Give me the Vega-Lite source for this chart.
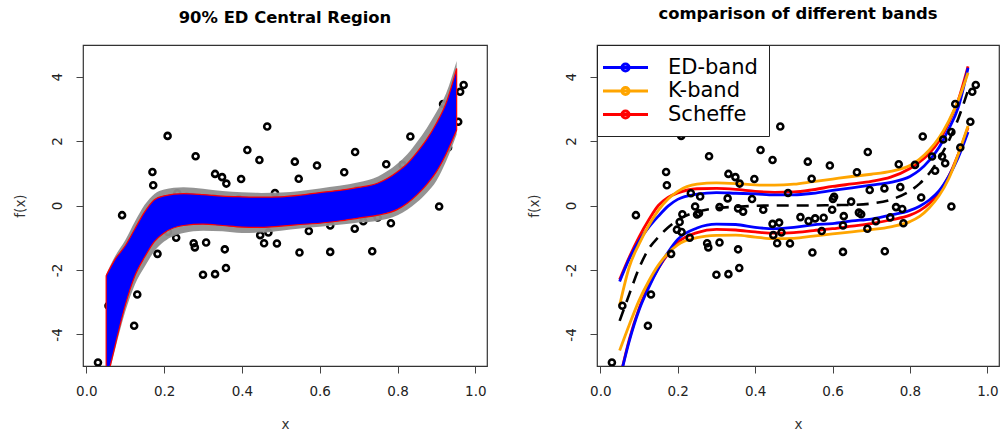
{
"$schema": "https://vega.github.io/schema/vega-lite/v6.json",
"background": "white",
"padding": {"left": 12, "top": 5, "right": 0, "bottom": 0},
"spacing": 110,
"bounds": "flush",
"config": {
  "font": "DejaVu Sans",
  "view": {"stroke": "#333", "strokeWidth": 1.2},
  "axis": {"grid": false, "domain": false, "tickColor": "#444", "tickSize": 7, "tickWidth": 1, "labelFont": "DejaVu Sans", "labelFontSize": 13.5, "labelColor": "#222", "titleFont": "DejaVu Sans", "titleFontSize": 13.5, "titleFontWeight": "normal", "titleColor": "#333"},
  "axisX": {"labelPadding": 11.5, "titlePadding": 19},
  "axisY": {"labelAngle": 270, "labelAlign": "center", "labelBaseline": "bottom", "labelPadding": 12, "titlePadding": 23},
  "title": {"font": "DejaVu Sans", "fontSize": 16.4, "fontWeight": "bold", "color": "black", "offset": 19, "anchor": "middle"}
},
"datasets": {
  "pts": [
    {"x":0.030,"y":-4.87},{"x":0.057,"y":-3.11},{"x":0.092,"y":-0.30},{"x":0.123,"y":-3.73},{"x":0.131,"y":-2.76},
    {"x":0.170,"y":1.04},{"x":0.172,"y":0.63},{"x":0.183,"y":-1.50},{"x":0.209,"y":2.16},{"x":0.198,"y":-0.75},
    {"x":0.205,"y":-0.51},{"x":0.212,"y":-0.27},{"x":0.210,"y":-0.82},{"x":0.231,"y":-1.00},{"x":0.234,"y":0.38},
    {"x":0.245,"y":-0.03},{"x":0.250,"y":-0.28},{"x":0.255,"y":-0.24},{"x":0.258,"y":0.28},{"x":0.276,"y":-1.17},
    {"x":0.279,"y":-1.30},{"x":0.281,"y":1.53},{"x":0.300,"y":-2.15},{"x":0.308,"y":-1.15},{"x":0.308,"y":-0.05},
    {"x":0.329,"y":0.22},{"x":0.331,"y":-2.13},{"x":0.331,"y":0.98},{"x":0.349,"y":0.88},{"x":0.356,"y":-1.36},
    {"x":0.359,"y":-1.94},{"x":0.360,"y":0.68},{"x":0.356,"y":-0.09},{"x":0.369,"y":-0.19},{"x":0.392,"y":0.20},
    {"x":0.398,"y":0.82},{"x":0.414,"y":1.72},{"x":0.421,"y":-0.13},{"x":0.445,"y":-0.57},{"x":0.445,"y":1.41},
    {"x":0.447,"y":-0.92},{"x":0.457,"y":-1.17},{"x":0.462,"y":-0.53},{"x":0.465,"y":2.45},{"x":0.468,"y":-0.84},
    {"x":0.485,"y":0.39},{"x":0.490,"y":-1.18},{"x":0.517,"y":-0.36},{"x":0.536,"y":1.36},{"x":0.538,"y":-0.48},
    {"x":0.546,"y":0.83},{"x":0.548,"y":-1.46},{"x":0.555,"y":-0.40},{"x":0.577,"y":-0.38},{"x":0.572,"y":-0.79},
    {"x":0.593,"y":1.24},{"x":0.599,"y":-0.13},{"x":0.601,"y":0.20},{"x":0.604,"y":0.27},{"x":0.627,"y":-1.44},
    {"x":0.629,"y":-0.33},{"x":0.627,"y":-0.62},{"x":0.648,"y":0.12},{"x":0.663,"y":1.03},{"x":0.668,"y":-0.22},
    {"x":0.674,"y":-0.27},{"x":0.691,"y":1.66},{"x":0.696,"y":0.48},{"x":0.690,"y":-0.72},{"x":0.712,"y":-0.49},
    {"x":0.734,"y":0.53},{"x":0.735,"y":-1.42},{"x":0.749,"y":-0.37},{"x":0.764,"y":-0.05},{"x":0.771,"y":1.28},
    {"x":0.775,"y":0.57},{"x":0.780,"y":-0.11},{"x":0.783,"y":-0.55},{"x":0.813,"y":1.26},{"x":0.829,"y":0.25},
    {"x":0.833,"y":2.14},{"x":0.857,"y":1.52},{"x":0.865,"y":1.08},{"x":0.883,"y":1.52},{"x":0.886,"y":2.05},
    {"x":0.891,"y":1.31},{"x":0.907,"y":-0.03},{"x":0.907,"y":2.28},{"x":0.917,"y":3.15},{"x":0.930,"y":1.80},
    {"x":0.956,"y":2.60},{"x":0.961,"y":3.53},{"x":0.970,"y":3.74}
  ],
  "ed": [
    {"x":0.051,"lo":-5.5,"hi":-2.18,"glo":-5.6,"ghi":-2.13},
    {"x":0.075,"lo":-4.3,"hi":-1.65,"glo":-4.42,"ghi":-1.55},
    {"x":0.1,"lo":-3.1,"hi":-1.25,"glo":-3.3,"ghi":-1.08},
    {"x":0.125,"lo":-2.18,"hi":-0.72,"glo":-2.45,"ghi":-0.5},
    {"x":0.15,"lo":-1.6,"hi":-0.2,"glo":-1.9,"ghi":0.02},
    {"x":0.175,"lo":-1.12,"hi":0.18,"glo":-1.42,"ghi":0.36},
    {"x":0.2,"lo":-0.85,"hi":0.30,"glo":-1.12,"ghi":0.5},
    {"x":0.25,"lo":-0.62,"hi":0.37,"glo":-0.85,"ghi":0.57},
    {"x":0.3,"lo":-0.58,"hi":0.34,"glo":-0.78,"ghi":0.52},
    {"x":0.35,"lo":-0.62,"hi":0.29,"glo":-0.8,"ghi":0.45},
    {"x":0.4,"lo":-0.67,"hi":0.27,"glo":-0.85,"ghi":0.41},
    {"x":0.45,"lo":-0.68,"hi":0.26,"glo":-0.84,"ghi":0.39},
    {"x":0.5,"lo":-0.64,"hi":0.27,"glo":-0.78,"ghi":0.4},
    {"x":0.55,"lo":-0.59,"hi":0.32,"glo":-0.71,"ghi":0.45},
    {"x":0.6,"lo":-0.55,"hi":0.40,"glo":-0.66,"ghi":0.53},
    {"x":0.65,"lo":-0.48,"hi":0.47,"glo":-0.6,"ghi":0.61},
    {"x":0.7,"lo":-0.39,"hi":0.56,"glo":-0.53,"ghi":0.72},
    {"x":0.75,"lo":-0.30,"hi":0.70,"glo":-0.47,"ghi":0.9},
    {"x":0.8,"lo":-0.12,"hi":1.05,"glo":-0.3,"ghi":1.3},
    {"x":0.825,"lo":0.07,"hi":1.30,"glo":-0.13,"ghi":1.59},
    {"x":0.85,"lo":0.33,"hi":1.65,"glo":0.1,"ghi":1.97},
    {"x":0.875,"lo":0.65,"hi":2.05,"glo":0.39,"ghi":2.4},
    {"x":0.9,"lo":1.05,"hi":2.55,"glo":0.77,"ghi":2.9},
    {"x":0.925,"lo":1.6,"hi":3.18,"glo":1.37,"ghi":3.48},
    {"x":0.952,"lo":2.34,"hi":4.25,"glo":2.2,"ghi":4.48}
  ],
  "fit": [
    {"x":0.05,"y":-3.58},{"x":0.075,"y":-2.75},{"x":0.1,"y":-1.95},{"x":0.125,"y":-1.35},{"x":0.15,"y":-0.98},
    {"x":0.175,"y":-0.68},{"x":0.2,"y":-0.45},{"x":0.25,"y":-0.2},{"x":0.3,"y":-0.08},{"x":0.35,"y":-0.04},
    {"x":0.4,"y":-0.01},{"x":0.45,"y":0.0},{"x":0.5,"y":0.0},{"x":0.55,"y":0.0},{"x":0.6,"y":0.01},
    {"x":0.65,"y":0.02},{"x":0.7,"y":0.06},{"x":0.75,"y":0.18},{"x":0.8,"y":0.45},{"x":0.825,"y":0.68},
    {"x":0.85,"y":1.0},{"x":0.875,"y":1.45},{"x":0.9,"y":2.0},{"x":0.925,"y":2.7},{"x":0.95,"y":3.57}
  ],
  "bands": [
    {"band":"Scheffe","side":"up","x":0.05,"y":-2.3},{"band":"Scheffe","side":"up","x":0.075,"y":-1.6},{"band":"Scheffe","side":"up","x":0.1,"y":-0.98},{"band":"Scheffe","side":"up","x":0.125,"y":-0.45},{"band":"Scheffe","side":"up","x":0.15,"y":0.0},{"band":"Scheffe","side":"up","x":0.175,"y":0.25},{"band":"Scheffe","side":"up","x":0.2,"y":0.39},{"band":"Scheffe","side":"up","x":0.25,"y":0.52},{"band":"Scheffe","side":"up","x":0.3,"y":0.53},{"band":"Scheffe","side":"up","x":0.35,"y":0.50},{"band":"Scheffe","side":"up","x":0.4,"y":0.44},{"band":"Scheffe","side":"up","x":0.45,"y":0.41},{"band":"Scheffe","side":"up","x":0.5,"y":0.42},{"band":"Scheffe","side":"up","x":0.55,"y":0.49},{"band":"Scheffe","side":"up","x":0.6,"y":0.59},{"band":"Scheffe","side":"up","x":0.65,"y":0.67},{"band":"Scheffe","side":"up","x":0.7,"y":0.75},{"band":"Scheffe","side":"up","x":0.75,"y":0.88},{"band":"Scheffe","side":"up","x":0.8,"y":1.15},{"band":"Scheffe","side":"up","x":0.825,"y":1.35},{"band":"Scheffe","side":"up","x":0.85,"y":1.62},{"band":"Scheffe","side":"up","x":0.875,"y":2.0},{"band":"Scheffe","side":"up","x":0.9,"y":2.57},{"band":"Scheffe","side":"up","x":0.925,"y":3.28},{"band":"Scheffe","side":"up","x":0.95,"y":4.32},
    {"band":"Scheffe","side":"lo","x":0.05,"y":-5.4},{"band":"Scheffe","side":"lo","x":0.075,"y":-4.15},{"band":"Scheffe","side":"lo","x":0.1,"y":-3.2},{"band":"Scheffe","side":"lo","x":0.125,"y":-2.5},{"band":"Scheffe","side":"lo","x":0.15,"y":-1.95},{"band":"Scheffe","side":"lo","x":0.175,"y":-1.5},{"band":"Scheffe","side":"lo","x":0.2,"y":-1.15},{"band":"Scheffe","side":"lo","x":0.25,"y":-0.84},{"band":"Scheffe","side":"lo","x":0.3,"y":-0.74},{"band":"Scheffe","side":"lo","x":0.35,"y":-0.76},{"band":"Scheffe","side":"lo","x":0.4,"y":-0.82},{"band":"Scheffe","side":"lo","x":0.45,"y":-0.86},{"band":"Scheffe","side":"lo","x":0.5,"y":-0.84},{"band":"Scheffe","side":"lo","x":0.55,"y":-0.78},{"band":"Scheffe","side":"lo","x":0.6,"y":-0.72},{"band":"Scheffe","side":"lo","x":0.65,"y":-0.64},{"band":"Scheffe","side":"lo","x":0.7,"y":-0.56},{"band":"Scheffe","side":"lo","x":0.75,"y":-0.45},{"band":"Scheffe","side":"lo","x":0.8,"y":-0.30},{"band":"Scheffe","side":"lo","x":0.825,"y":-0.16},{"band":"Scheffe","side":"lo","x":0.85,"y":0.06},{"band":"Scheffe","side":"lo","x":0.875,"y":0.40},{"band":"Scheffe","side":"lo","x":0.9,"y":0.9},{"band":"Scheffe","side":"lo","x":0.925,"y":1.6},{"band":"Scheffe","side":"lo","x":0.95,"y":2.42},
    {"band":"ED-band","side":"up","x":0.05,"y":-2.36},{"band":"ED-band","side":"up","x":0.075,"y":-1.65},{"band":"ED-band","side":"up","x":0.1,"y":-1.1},{"band":"ED-band","side":"up","x":0.125,"y":-0.68},{"band":"ED-band","side":"up","x":0.15,"y":-0.33},{"band":"ED-band","side":"up","x":0.175,"y":-0.02},{"band":"ED-band","side":"up","x":0.2,"y":0.19},{"band":"ED-band","side":"up","x":0.25,"y":0.35},{"band":"ED-band","side":"up","x":0.3,"y":0.40},{"band":"ED-band","side":"up","x":0.35,"y":0.38},{"band":"ED-band","side":"up","x":0.4,"y":0.36},{"band":"ED-band","side":"up","x":0.45,"y":0.33},{"band":"ED-band","side":"up","x":0.5,"y":0.33},{"band":"ED-band","side":"up","x":0.55,"y":0.38},{"band":"ED-band","side":"up","x":0.6,"y":0.47},{"band":"ED-band","side":"up","x":0.65,"y":0.55},{"band":"ED-band","side":"up","x":0.7,"y":0.63},{"band":"ED-band","side":"up","x":0.75,"y":0.72},{"band":"ED-band","side":"up","x":0.8,"y":0.90},{"band":"ED-band","side":"up","x":0.825,"y":1.1},{"band":"ED-band","side":"up","x":0.85,"y":1.40},{"band":"ED-band","side":"up","x":0.875,"y":1.8},{"band":"ED-band","side":"up","x":0.9,"y":2.37},{"band":"ED-band","side":"up","x":0.925,"y":3.05},{"band":"ED-band","side":"up","x":0.95,"y":4.27},
    {"band":"ED-band","side":"lo","x":0.05,"y":-5.4},{"band":"ED-band","side":"lo","x":0.075,"y":-4.2},{"band":"ED-band","side":"lo","x":0.1,"y":-3.25},{"band":"ED-band","side":"lo","x":0.125,"y":-2.55},{"band":"ED-band","side":"lo","x":0.15,"y":-1.95},{"band":"ED-band","side":"lo","x":0.175,"y":-1.45},{"band":"ED-band","side":"lo","x":0.2,"y":-1.05},{"band":"ED-band","side":"lo","x":0.25,"y":-0.70},{"band":"ED-band","side":"lo","x":0.3,"y":-0.58},{"band":"ED-band","side":"lo","x":0.35,"y":-0.59},{"band":"ED-band","side":"lo","x":0.4,"y":-0.68},{"band":"ED-band","side":"lo","x":0.45,"y":-0.72},{"band":"ED-band","side":"lo","x":0.5,"y":-0.68},{"band":"ED-band","side":"lo","x":0.55,"y":-0.60},{"band":"ED-band","side":"lo","x":0.6,"y":-0.56},{"band":"ED-band","side":"lo","x":0.65,"y":-0.48},{"band":"ED-band","side":"lo","x":0.7,"y":-0.42},{"band":"ED-band","side":"lo","x":0.75,"y":-0.30},{"band":"ED-band","side":"lo","x":0.8,"y":-0.15},{"band":"ED-band","side":"lo","x":0.825,"y":-0.02},{"band":"ED-band","side":"lo","x":0.85,"y":0.17},{"band":"ED-band","side":"lo","x":0.875,"y":0.45},{"band":"ED-band","side":"lo","x":0.9,"y":0.9},{"band":"ED-band","side":"lo","x":0.925,"y":1.5},{"band":"ED-band","side":"lo","x":0.95,"y":2.28},
    {"band":"K-band","side":"up","x":0.05,"y":-3.1},{"band":"K-band","side":"up","x":0.075,"y":-1.9},{"band":"K-band","side":"up","x":0.1,"y":-1.2},{"band":"K-band","side":"up","x":0.125,"y":-0.62},{"band":"K-band","side":"up","x":0.15,"y":-0.15},{"band":"K-band","side":"up","x":0.175,"y":0.2},{"band":"K-band","side":"up","x":0.2,"y":0.44},{"band":"K-band","side":"up","x":0.25,"y":0.66},{"band":"K-band","side":"up","x":0.3,"y":0.70},{"band":"K-band","side":"up","x":0.35,"y":0.68},{"band":"K-band","side":"up","x":0.4,"y":0.64},{"band":"K-band","side":"up","x":0.45,"y":0.63},{"band":"K-band","side":"up","x":0.5,"y":0.66},{"band":"K-band","side":"up","x":0.55,"y":0.74},{"band":"K-band","side":"up","x":0.6,"y":0.82},{"band":"K-band","side":"up","x":0.65,"y":0.9},{"band":"K-band","side":"up","x":0.7,"y":0.97},{"band":"K-band","side":"up","x":0.75,"y":1.06},{"band":"K-band","side":"up","x":0.8,"y":1.24},{"band":"K-band","side":"up","x":0.825,"y":1.44},{"band":"K-band","side":"up","x":0.85,"y":1.72},{"band":"K-band","side":"up","x":0.875,"y":2.1},{"band":"K-band","side":"up","x":0.9,"y":2.62},{"band":"K-band","side":"up","x":0.925,"y":3.27},{"band":"K-band","side":"up","x":0.95,"y":4.12},
    {"band":"K-band","side":"lo","x":0.05,"y":-4.5},{"band":"K-band","side":"lo","x":0.075,"y":-3.7},{"band":"K-band","side":"lo","x":0.1,"y":-2.95},{"band":"K-band","side":"lo","x":0.125,"y":-2.35},{"band":"K-band","side":"lo","x":0.15,"y":-1.85},{"band":"K-band","side":"lo","x":0.175,"y":-1.48},{"band":"K-band","side":"lo","x":0.2,"y":-1.22},{"band":"K-band","side":"lo","x":0.25,"y":-1.0},{"band":"K-band","side":"lo","x":0.3,"y":-0.93},{"band":"K-band","side":"lo","x":0.35,"y":-0.92},{"band":"K-band","side":"lo","x":0.4,"y":-0.98},{"band":"K-band","side":"lo","x":0.45,"y":-1.03},{"band":"K-band","side":"lo","x":0.5,"y":-1.02},{"band":"K-band","side":"lo","x":0.55,"y":-0.95},{"band":"K-band","side":"lo","x":0.6,"y":-0.88},{"band":"K-band","side":"lo","x":0.65,"y":-0.82},{"band":"K-band","side":"lo","x":0.7,"y":-0.75},{"band":"K-band","side":"lo","x":0.75,"y":-0.66},{"band":"K-band","side":"lo","x":0.8,"y":-0.5},{"band":"K-band","side":"lo","x":0.825,"y":-0.34},{"band":"K-band","side":"lo","x":0.85,"y":-0.07},{"band":"K-band","side":"lo","x":0.875,"y":0.30},{"band":"K-band","side":"lo","x":0.9,"y":0.83},{"band":"K-band","side":"lo","x":0.925,"y":1.6},{"band":"K-band","side":"lo","x":0.95,"y":2.47}
  ]
},
"hconcat": [
  {
    "width": 404, "height": 321,
    "title": {"text": "90% ED Central Region"},
    "layer": [
      {
        "data": {"name": "pts"},
        "mark": {"type": "point", "shape": "circle", "filled": false, "stroke": "black", "strokeWidth": 2.6, "size": 36, "opacity": 1, "clip": true},
        "encoding": {
          "x": {"field": "x", "type": "quantitative", "scale": {"domain": [-0.0085, 1.03], "nice": false, "zero": false}, "axis": {"values": [0, 0.2, 0.4, 0.6, 0.8, 1], "format": ".1f", "title": "x"}},
          "y": {"field": "y", "type": "quantitative", "scale": {"domain": [-4.98, 4.98], "nice": false, "zero": false}, "axis": {"values": [-4, -2, 0, 2, 4], "labelExpr": "'' + datum.value", "title": "f(x)"}}
        }
      },
      {
        "data": {"name": "ed"},
        "mark": {"type": "area", "color": "#8e8e8e", "opacity": 0.95, "interpolate": "monotone", "clip": true},
        "encoding": {
          "x": {"field": "x", "type": "quantitative"},
          "y": {"field": "glo", "type": "quantitative"},
          "y2": {"field": "ghi"}
        }
      },
      {
        "data": {"name": "ed"},
        "mark": {"type": "area", "fill": "#0000ff", "fillOpacity": 1, "stroke": "#ff0000", "strokeWidth": 1.2, "interpolate": "monotone", "clip": true},
        "encoding": {
          "x": {"field": "x", "type": "quantitative"},
          "y": {"field": "lo", "type": "quantitative"},
          "y2": {"field": "hi"}
        }
      }
    ]
  },
  {
    "width": 402, "height": 321,
    "title": {"text": "comparison of different bands", "offset": 22.5},
    "layer": [
      {
        "data": {"name": "fit"},
        "mark": {"type": "line", "color": "black", "strokeWidth": 2.6, "strokeDash": [12, 8], "interpolate": "monotone", "clip": true},
        "encoding": {
          "x": {"field": "x", "type": "quantitative", "scale": {"domain": [-0.0085, 1.03], "nice": false, "zero": false}, "axis": {"values": [0, 0.2, 0.4, 0.6, 0.8, 1], "format": ".1f", "title": "x"}},
          "y": {"field": "y", "type": "quantitative", "scale": {"domain": [-4.98, 4.98], "nice": false, "zero": false}, "axis": {"values": [-4, -2, 0, 2, 4], "labelExpr": "'' + datum.value", "title": "f(x)"}}
        }
      },
      {
        "data": {"name": "bands"},
        "mark": {"type": "line", "strokeWidth": 2.8, "interpolate": "monotone", "clip": true},
        "encoding": {
          "x": {"field": "x", "type": "quantitative"},
          "y": {"field": "y", "type": "quantitative"},
          "detail": {"field": "side"},
          "color": {
            "field": "band", "type": "nominal",
            "scale": {"domain": ["ED-band", "K-band", "Scheffe"], "range": ["#0000ff", "#ffa500", "#ff0000"]},
            "legend": {
              "orient": "none", "legendX": 514, "legendY": 0, "title": null,
              "strokeColor": "#222", "fillColor": "white", "padding": 11, "cornerRadius": 0,
              "symbolType": "M-1.65,0L2.85,0M0.25,0A0.35,0.35,0,1,1,0.95,0A0.35,0.35,0,1,1,0.25,0Z",
              "symbolSize": 400, "symbolStrokeWidth": 3,
              "labelFont": "DejaVu Sans", "labelFontSize": 21, "labelColor": "black", "labelOffset": 37,
              "rowPadding": 1.5
            }
          }
        }
      },
      {
        "data": {"name": "pts"},
        "mark": {"type": "point", "shape": "circle", "filled": false, "stroke": "black", "strokeWidth": 2.6, "size": 36, "opacity": 1, "clip": true},
        "encoding": {
          "x": {"field": "x", "type": "quantitative"},
          "y": {"field": "y", "type": "quantitative"}
        }
      }
    ]
  }
]
}
